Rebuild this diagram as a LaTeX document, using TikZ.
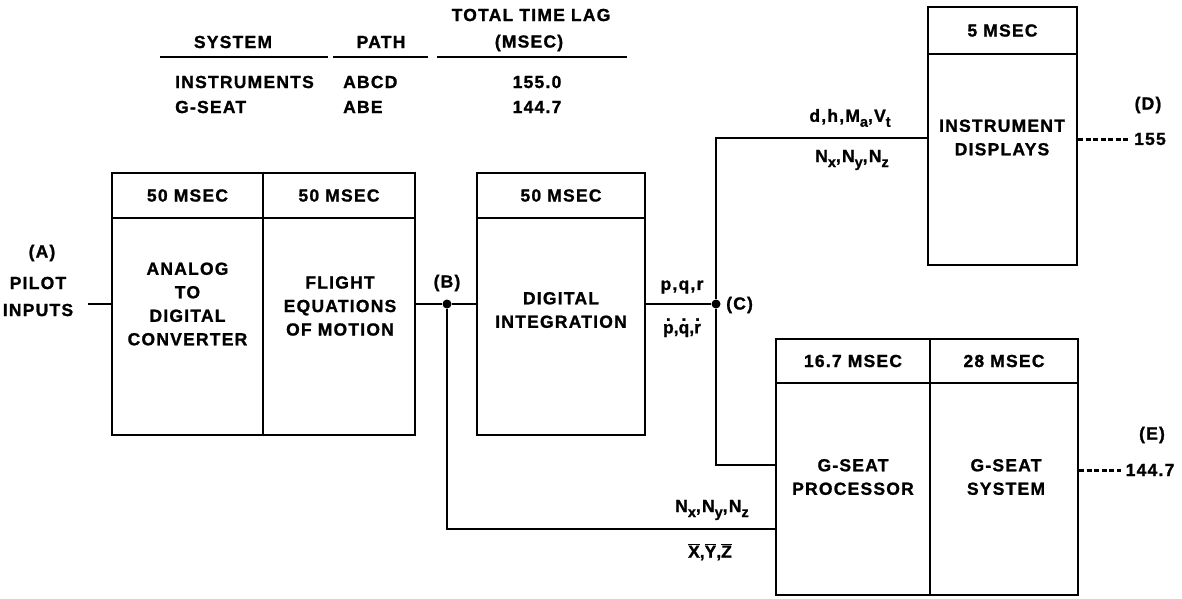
\documentclass[tikz,border=0pt]{standalone}
\usepackage{fontspec}
\setmainfont{Liberation Sans}[LetterSpace=7, BoldFont={Liberation Sans Bold}, BoldFeatures={FakeBold=1.2}]
\newcommand\lbfont{\fontsize{17.5}{23.5}\selectfont\bfseries}
\newcommand\sbs[1]{\raisebox{-5pt}{\fontsize{14.5}{14.5}\selectfont\bfseries #1}}
\newcommand\dtop[1]{\leavevmode\hbox{\ooalign{#1\cr\hidewidth\raisebox{12.5pt}{.}\hidewidth\cr}}}
\newcommand\obar[1]{$\overline{\hbox{#1}}$}
\tikzset{
  cell/.style={draw, line width=2.2pt, inner sep=0pt, align=center},
  hcell/.style={cell, minimum height=45pt},
  lbl/.style={inner sep=0pt, align=center},
  conn/.style={line width=2.2pt},
  dashln/.style={line width=3pt, dash pattern=on 5pt off 2.5pt},
  junc/.style={circle, fill, inner sep=0pt, minimum size=9pt},
  tabrule/.style={line width=1.6pt}
}
\begin{document}
\begin{tikzpicture}[x=1pt, y=-1pt, font=\lbfont]
\useasboundingbox (0,0) rectangle (1182,598);

% ---- table ----
\node[lbl] (tlag) at (531,15) {TOTAL TIME LAG};
\node[lbl] (hsys) at (233,42) {SYSTEM};
\node[lbl] (hpath) at (381,42) {PATH};
\node[lbl] (hmsec) at (529,43) {(MSEC)};
\draw[tabrule] (160,57) -- (328,57);
\draw[tabrule] (333,57) -- (428,57);
\draw[tabrule] (437,57) -- (627,57);
\node[lbl, anchor=west] (r1s) at (175,82) {INSTRUMENTS};
\node[lbl, anchor=west] (r1p) at (343,82) {ABCD};
\node[lbl] (r1t) at (537,82) {155.0};
\node[lbl, anchor=west] (r2s) at (175,107) {G-SEAT};
\node[lbl, anchor=west] (r2p) at (343,107) {ABE};
\node[lbl] (r2t) at (537,107) {144.7};

% ---- boxes ----
\node[hcell, minimum width=151pt] (hADC) at (187.5,195.5) {50 MSEC};
\node[cell, minimum width=151pt, minimum height=217pt] (bADC) at (187.5,326.5) {};
\node[hcell, minimum width=152pt] (hFEM) at (339,195.5) {50 MSEC};
\node[cell, minimum width=152pt, minimum height=217pt] (bFEM) at (339,326.5) {};
\node[hcell, minimum width=168pt] (hDI) at (561,195.5) {50 MSEC};
\node[cell, minimum width=168pt, minimum height=217pt] (bDI) at (561,326.5) {};
\node[cell, minimum width=149pt, minimum height=47pt] (hID) at (1002.5,30.5) {5 MSEC};
\node[cell, minimum width=149pt, minimum height=211pt] (bID) at (1002.5,159.5) {};
\node[cell, minimum width=154pt, minimum height=44pt] (hGP) at (853,361) {16.7 MSEC};
\node[cell, minimum width=154pt, minimum height=212pt] (bGP) at (853,489) {};
\node[cell, minimum width=148pt, minimum height=44pt] (hGS) at (1004,361) {28 MSEC};
\node[cell, minimum width=148pt, minimum height=212pt] (bGS) at (1004,489) {};

\node[lbl] (tADC) at (187.5,304) {ANALOG\\TO\\DIGITAL\\CONVERTER};
\node[lbl] (tFEM) at (340,306) {FLIGHT\\EQUATIONS\\OF MOTION};
\node[lbl] (tDI) at (561,310) {DIGITAL\\INTEGRATION};
\node[lbl] (tID) at (1002,137.5) {INSTRUMENT\\DISPLAYS};
\node[lbl] (tGP) at (853,477) {G-SEAT\\PROCESSOR};
\node[lbl] (tGS) at (1006,477) {G-SEAT\\SYSTEM};

% ---- connectors ----
\node[lbl] (A) at (42,253) {(A)};
\node[lbl, font={\fontsize{17.5}{27}\selectfont\bfseries}] (pilot) at (38,296.5) {PILOT\\INPUTS};
\coordinate (Ain) at (88,304);
\draw[conn] (Ain) -- (Ain -| bADC.west);

\node[junc] (B) at (447,304) {};
\node[lbl] (Blbl) at (447,283) {(B)};
\draw[conn] (bFEM.east |- B) -- (B) -- (B -| bDI.west);
\coordinate (B2) at (447,529);
\draw[conn] (B) -- (B2) -- (B2 -| bGP.west);

\node[junc] (C) at (716,304) {};
\node[lbl, anchor=west] (Clbl) at (726,305) {(C)};
\draw[conn] (C -| bDI.east) -- (C);
\coordinate (C1) at (716,138);
\coordinate (C2) at (716,465);
\draw[conn] (C) -- (C1) -- (C1 -| bID.west);
\draw[conn] (C) -- (C2) -- (C2 -| bGP.west);

\node[lbl] (pqr) at (682,287) {p,q,r};
\node[lbl] (pqrd) at (682,330) {\dtop{p},\dtop{q},\dtop{r}};
\node[lbl] (dhm) at (850,118) {d,h,M\sbs{a},V\sbs{t}};
\node[lbl] (nid) at (852,160) {N\sbs{x},N\sbs{y},N\sbs{z}};
\node[lbl] (ngp) at (712,510) {N\sbs{x},N\sbs{y},N\sbs{z}};
\node[lbl] (xyz) at (710,552) {\obar{X},\obar{Y},\obar{Z}};

\node[lbl] (D) at (1148,105) {(D)};
\node[lbl] (v155) at (1150,139) {155};
\draw[dashln] (bID.east |- v155) -- ([xshift=-6pt]v155.west);
\node[lbl] (E) at (1152,435) {(E)};
\node[lbl] (v144) at (1150,470) {144.7};
\draw[dashln] (bGS.east |- v144) -- ([xshift=-4pt]v144.west);
\end{tikzpicture}
\end{document}
